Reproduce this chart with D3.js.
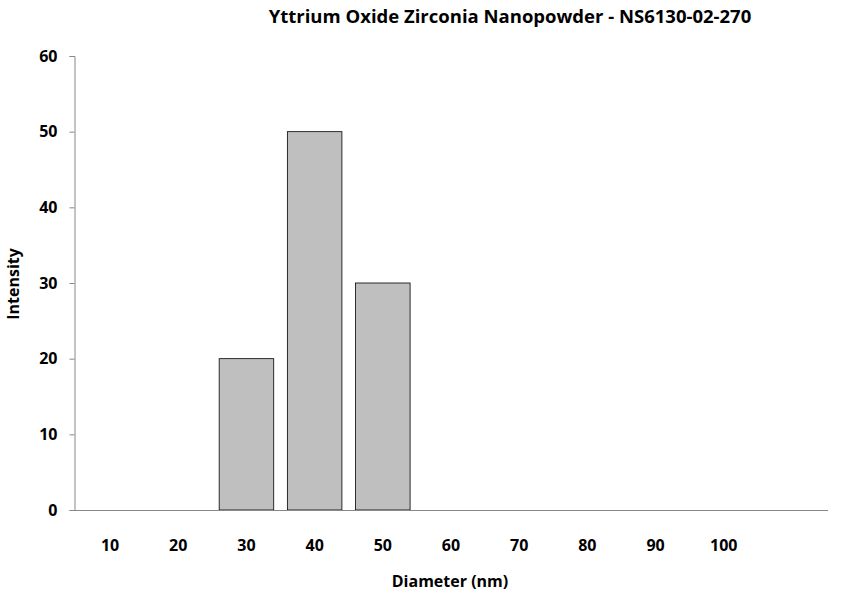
<!DOCTYPE html>
<html><head><meta charset="utf-8">
<script src="https://cdn.jsdelivr.net/npm/d3@7"></script>
<style>body{margin:0;background:#fff}text{font-family:"Open Sans","Liberation Sans",sans-serif;font-weight:bold}</style>
</head><body><svg id="c" width="842" height="601"></svg>
<script>
const categories=["10","20","30","40","50","60","70","80","90","100",""];
const values=[0,0,20,50,30,0,0,0,0,0,0];
const yTicks=[0,10,20,30,40,50,60];
const title="Yttrium Oxide Zirconia Nanopowder - NS6130-02-270";
const svg=d3.select("#c");
const x=d3.scaleBand().domain(categories.map((c,i)=>i)).range([76,826]).paddingInner(0.2).paddingOuter(0.1);
const y=d3.scaleLinear().domain([0,60]).range([510,56]);
const bars=values.map((v,i)=>({v,i})).filter(d=>d.v>0);
svg.selectAll("rect").data(bars).join("rect")
 .attr("x",d=>x(d.i)).attr("width",x.bandwidth()).attr("y",d=>y(d.v)).attr("height",d=>510-y(d.v))
 .attr("fill","#bfbfbf").attr("stroke","#000").attr("stroke-width",0.8);
svg.append("line").attr("x1",74).attr("x2",828).attr("y1",510.5).attr("y2",510.5).attr("stroke","#888");
const ya=svg.append("g").attr("transform","translate(74.5,0)").call(d3.axisLeft(y).tickValues(yTicks).tickSize(5).tickPadding(12));
ya.selectAll("path,line").attr("stroke","#888");
ya.selectAll("text").attr("font-size",16).attr("fill","#000").attr("font-family","Open Sans").attr("font-weight","bold");
svg.append("g").selectAll("text").data(categories).join("text").attr("x",(d,i)=>x(i)+x.bandwidth()/2).attr("y",551)
 .attr("text-anchor","middle").attr("font-size",16).text(d=>d);
svg.append("text").attr("x",510).attr("y",23).attr("text-anchor","middle").attr("font-size",18.5).text(title);
svg.append("text").attr("x",450).attr("y",587).attr("text-anchor","middle").attr("font-size",16).text("Diameter (nm)");
svg.append("text").attr("transform","translate(19,284) rotate(-90)").attr("text-anchor","middle").attr("font-size",16).text("Intensity");
</script></body></html>
